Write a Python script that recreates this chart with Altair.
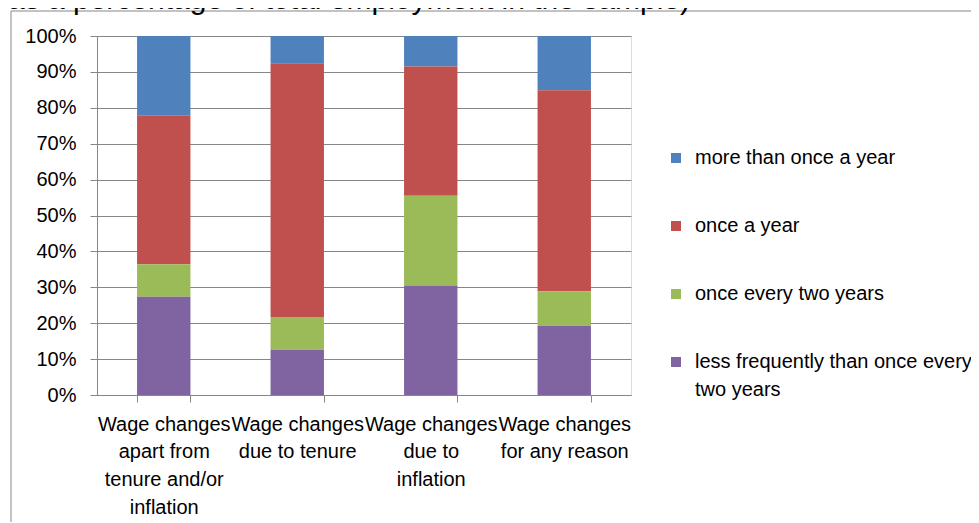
import altair as alt
import pandas as pd

# ---- data ----
categories = [
    "Wage changes|apart from|tenure and/or|inflation",
    "Wage changes|due to tenure",
    "Wage changes|due to|inflation",
    "Wage changes|for any reason",
]
series = [
    "more than once a year",
    "once a year",
    "once every two years",
    "less frequently than once every|two years",
]
colors = ["#4F81BD", "#C0504D", "#9BBB59", "#8064A2"]
stack_rank = [3, 2, 1, 0]  # purple at bottom

more_than_once = [22.2, 7.6, 8.5, 15.1]
once_a_year = [41.4, 70.7, 36.0, 56.0]
once_two_years = [9.0, 9.1, 25.0, 9.6]
less_frequently = [27.4, 12.6, 30.5, 19.3]

title_text = "(as a percentage of total employment in the sample)"
y_ticks = [0, 10, 20, 30, 40, 50, 60, 70, 80, 90, 100]

values = [more_than_once, once_a_year, once_two_years, less_frequently]
rows = []
for s, vals, rank in zip(series, values, stack_rank):
    for c, v in zip(categories, vals):
        rows.append({"category": c, "series": s, "value": v, "rank": rank})
df = pd.DataFrame(rows)

FONT = "Liberation Sans"
GRAY = "#868686"

bars = alt.Chart(df).mark_bar().encode(
    x=alt.X(
        "category:N",
        sort=categories,
        scale=alt.Scale(paddingInner=0.6, paddingOuter=0.3),
        axis=alt.Axis(
            title=None,
            labelAngle=0,
            labelExpr="split(datum.label, '|')",
            labelFont=FONT,
            labelFontSize=20,
            labelColor="#000000",
            labelLineHeight=27.7,
            labelBaseline="top",
            labelPadding=12,
            labelLimit=0,
            tickBand="extent",
            tickSize=7,
            tickColor=GRAY,
            domainColor=GRAY,
            grid=False,
        ),
    ),
    y=alt.Y(
        "value:Q",
        stack="zero",
        scale=alt.Scale(domain=[0, 100], nice=False),
        axis=alt.Axis(
            title=None,
            values=y_ticks,
            labelExpr="datum.value + '%'",
            labelFont=FONT,
            labelFontSize=20,
            labelColor="#000000",
            labelPadding=14,
            tickSize=7,
            tickColor=GRAY,
            domainColor=GRAY,
            gridColor=GRAY,
            gridOpacity=1,
        ),
    ),
    color=alt.Color(
        "series:N",
        scale=alt.Scale(domain=series, range=colors),
        legend=alt.Legend(
            title=None,
            orient="none",
            legendX=569,
            legendY=102,
            direction="vertical",
            symbolType="M-1,1H1V3H-1Z",
            symbolSize=100,
            symbolStrokeWidth=0,
            labelFont=FONT,
            labelFontSize=20,
            labelColor="#000000",
            labelBaseline="top",
            labelExpr="split(datum.label, '|')",
            labelLimit=0,
            labelOffset=9,
            rowPadding=38,
        ),
    ),
    order=alt.Order("rank:Q", sort="ascending"),
)

title_df = pd.DataFrame({"t": [title_text]})
title = alt.Chart(title_df).mark_text(
    align="right", baseline="alphabetic", font=FONT, fontSize=30, color="#000000"
).encode(x=alt.value(593), y=alt.value(-27), text="t:N")

frame_df = pd.DataFrame({"k": [0]})
frame_top = alt.Chart(frame_df).mark_rule(color=GRAY, strokeWidth=1).encode(
    x=alt.value(-86), x2=alt.value(900), y=alt.value(-25)
)
frame_left = alt.Chart(frame_df).mark_rule(color=GRAY, strokeWidth=1).encode(
    x=alt.value(-86), y=alt.value(-25), y2=alt.value(500)
)

chart = alt.layer(frame_top, frame_left, bars, title).properties(
    width=534,
    height=359,
    autosize=alt.AutoSizeParams(type="none"),
    padding={"left": 89, "top": 28, "right": 340, "bottom": 127},
).configure_view(strokeWidth=0).configure(
    background="#ffffff",
    style={"guide-label": {"lineHeight": 27.5}},
)

chart.save("out.html", embed_options={"renderer": "svg", "actions": False})
